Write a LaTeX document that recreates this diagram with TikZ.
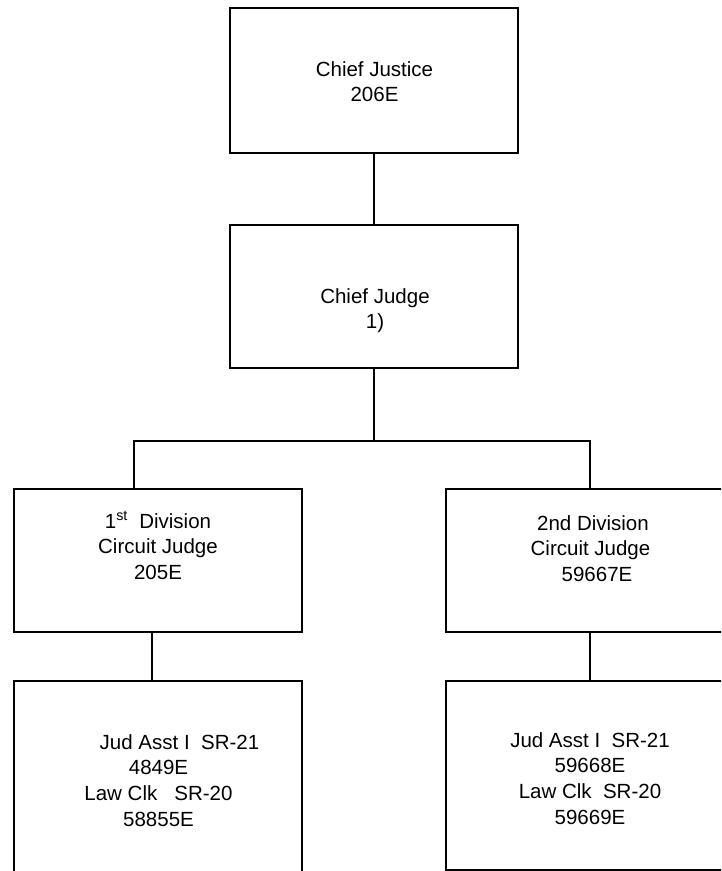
\documentclass[tikz,border=0pt]{standalone}
\usepackage{fontspec}
\setmainfont{Liberation Sans}
\usetikzlibrary{positioning}
\usetikzlibrary{calc}

\begin{document}
\begin{tikzpicture}[x=1pt, y=-1pt,
    box/.style={draw=black, line width=1.9pt, rectangle, inner sep=0pt, minimum width=288pt},
    conn/.style={draw=black, line width=1.8pt},
    txt/.style={anchor=north, inner sep=0pt, align=center, font=\fontsize{20.5}{25.8}\selectfont}]
    \useasboundingbox (0,0) rectangle (721,871);
    \clip (0,0) rectangle (721,871);

    % TOP: chief justice and chief judge
    \node[box, minimum height=145pt] (cjus) at (374, 80.5) {};
    \node[box, minimum height=143pt] (cjud) at (374, 296.5) {};
    \node[txt] (cjusT) at (374.5, 61) {Chief Justice\\206E};
    \node[txt] (cjudT) at (375, 288) {Chief Judge\\1)};

    % MIDDLE: the two divisions
    \node[box, minimum height=143pt] (div1) at (158, 560.5) {};
    \node[box, minimum height=143pt] (div2) at (590, 560.5) {};
    \node[txt] (div1T) at (158, 511) {1\textsuperscript{st}\ \ Division\\Circuit Judge\\205E};
    \node[txt] (div2T) at (590.5, 515) {\hspace*{5pt}2nd Division\\Circuit Judge\\\hspace*{13pt}59667E};

    % BOTTOM: staff of each division
    \node[box, minimum height=193pt] (clk1) at (158, 777.5) {};
    \node[box, minimum height=189pt] (clk2) at (590, 775.5) {};
    \node[txt] (clk1T) at (158.5, 734) {\hspace*{42pt}Jud Asst I\ \ SR-21\\4849E\\Law Clk\ \ \ SR-20\\58855E};
    \node[txt] (clk2T) at (590, 732) {Jud Asst I\ \ SR-21\\59668E\\Law Clk\ \ SR-20\\59669E};

    % connectors
    \coordinate (busL) at (134, 441);
    \draw[conn] (cjus.south) -- (cjud.north);
    \draw[conn] (cjud.south) -- (cjud.south |- busL);
    \draw[conn] (busL |- div1.north) -- (busL) -- (busL -| div2.north) -- (div2.north);
    \draw[conn] ([xshift=-6pt]div1.south) -- ([xshift=-6pt]div1.south |- clk1.north);
    \draw[conn] (div2.south) -- (clk2.north);
\end{tikzpicture}
\end{document}
